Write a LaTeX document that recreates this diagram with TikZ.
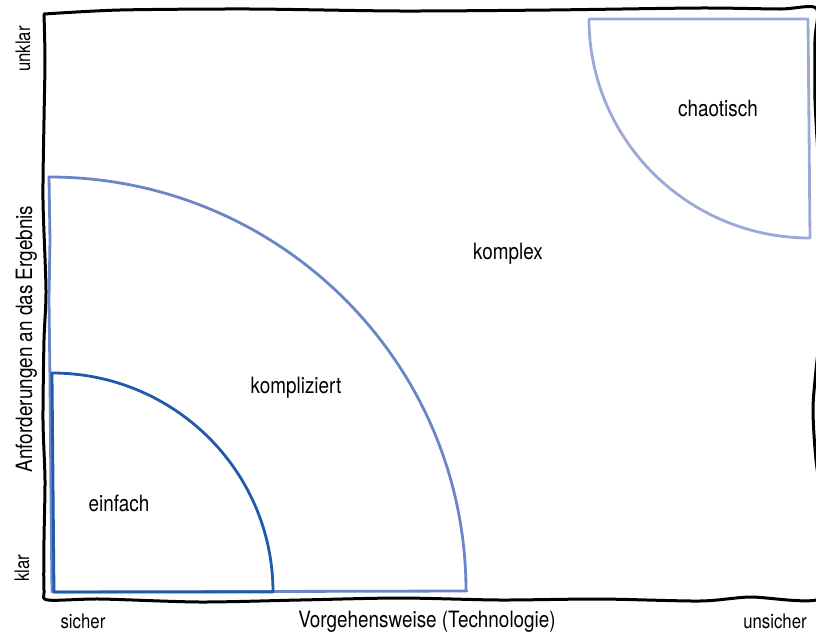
\documentclass[tikz,border=0pt]{standalone}
\usepackage{fontspec}
\setmainfont{TeX Gyre Heros}[FakeStretch=0.84]
\definecolor{bdark}{HTML}{1F5BAA}
\definecolor{bmid}{HTML}{6A86C6}
\definecolor{blight}{HTML}{9BA8D8}
\begin{document}
\begin{tikzpicture}[x=1pt,y=-1pt,
  frame/.style={line width=3pt,black,line cap=round,line join=round},
  zone/.style={line width=2.8pt,line join=round,line cap=round},
  lbl/.style={font=\fontsize{22.5}{26}\selectfont,anchor=base,inner sep=0pt},
  side/.style={font=\fontsize{20}{24}\selectfont,anchor=base,inner sep=0pt}]
\useasboundingbox (0,0) rectangle (816,635);
% frame
\draw[frame] plot[smooth,tension=0.45] coordinates {
 (44,14) (120,10) (250,9) (400,11) (550,10) (700,8) (780,9) (816,8)
 (815,40) (815,100) (819,170) (826,270) (816,370) (813,410) (816,460) (826,540) (822,598)
 (750,597) (700,601) (600,599) (500,600) (400,598) (300,600) (200,602) (100,599) (48,600)
 (44,590) (44,540) (45,480) (43,420) (44,340) (46,290) (43,200) (44,120) (45,60) (44,14)};
% chaotisch
\draw[zone,blight] (589,19) -- (808,19) -- (810,238)
  arc[start angle=-90,end angle=-180,x radius=221pt,y radius=219pt];
% kompliziert
\draw[zone,bmid] (467,591) -- (52,592) -- (51,500) -- (50,380) -- (49,300) -- (50,240) -- (49,177)
  arc[start angle=90,end angle=0,x radius=417pt,y radius=414pt];
% einfach
\draw[zone,bdark] (273,592) -- (54,592) -- (53,480) -- (52,373)
  arc[start angle=90,end angle=0,x radius=221pt,y radius=219pt];
% labels
\node[lbl] (chaos) at (718,116) {chaotisch};
\node[lbl] (komplex) at (508,259) {komplex};
\node[lbl] (kompl) at (296,393) {kompliziert};
\node[lbl] (einf) at (119,511) {einfach};
\node[side] (sicher) at (83,628) {sicher};
\node[lbl] (vorg) at (427,627) {Vorgehensweise (Technologie)};
\node[side] (unsicher) at (775,628) {unsicher};
\node[side,rotate=90] (unklar) at (30,49) {unklar};
\node[lbl,rotate=90] (anf) at (32,339) {Anforderungen an das Ergebnis};
\node[side,rotate=90] (klar) at (29,568) {klar};
\end{tikzpicture}
\end{document}
